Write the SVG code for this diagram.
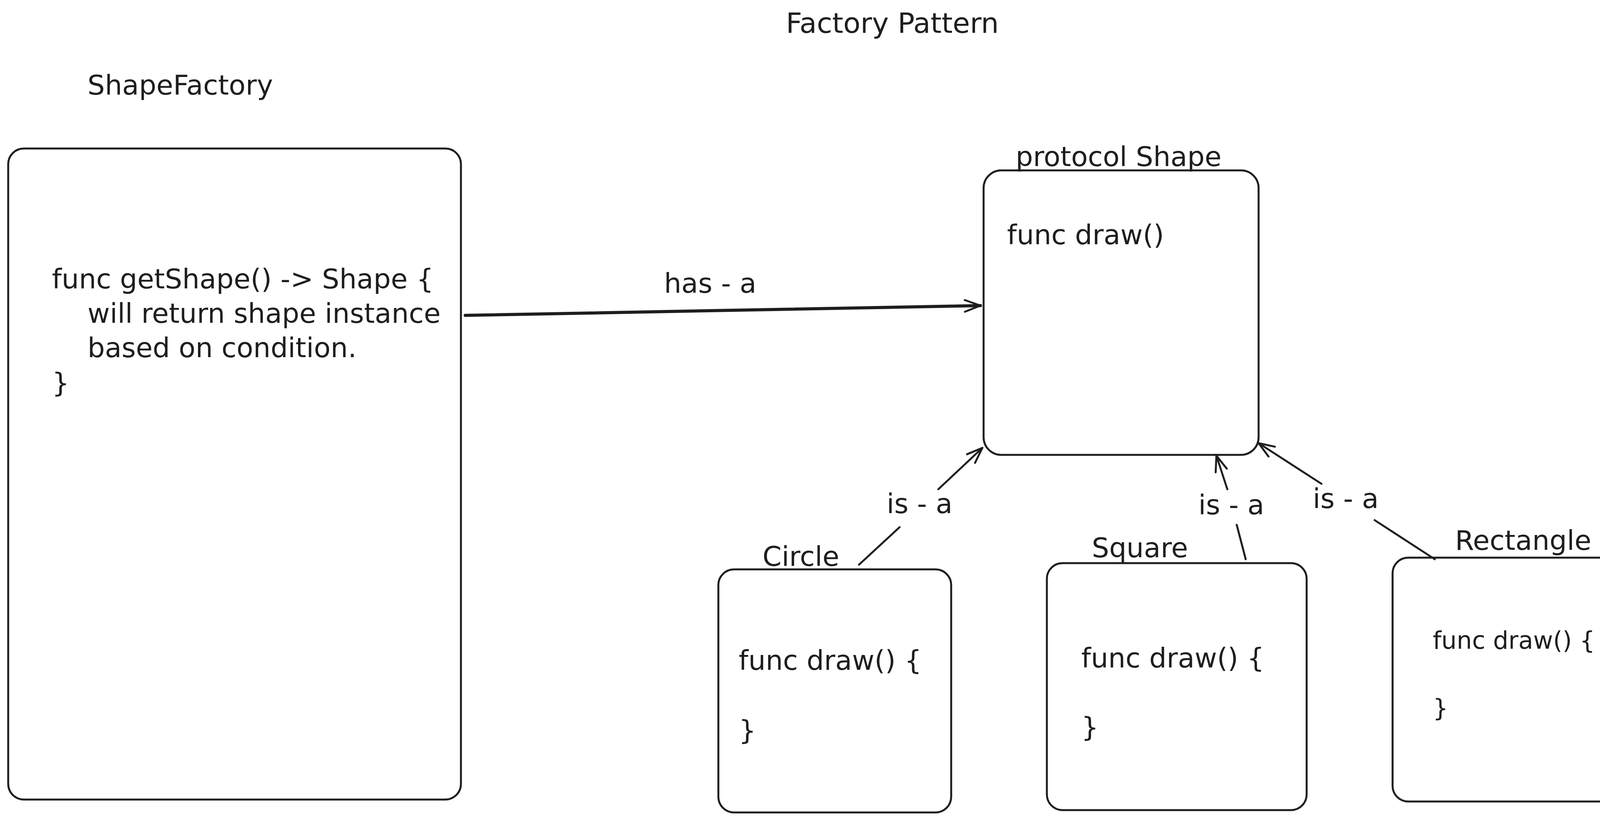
<svg xmlns="http://www.w3.org/2000/svg" width="4310" height="2106" viewBox="0 0 4310 2106">
  <style>
    .box { fill: #ffffff; stroke: #1e1e1e; stroke-width: 5; }
    .t { font-family: "DejaVu Sans", "Liberation Sans", sans-serif; font-size: 70px; fill: #1e1e1e; }
    .title { font-size: 72px; }
    .sm { font-size: 62px; }
    .conn { fill: none; stroke: #1e1e1e; stroke-width: 5; stroke-linecap: round; }
    .thick { stroke-width: 8; }
  </style>
  <defs>
    <marker id="arrow" markerUnits="userSpaceOnUse" markerWidth="50" markerHeight="40" refX="42" refY="16" orient="auto" overflow="visible">
      <path d="M2,1 L42,16 L2,31" fill="none" stroke="#1e1e1e" stroke-width="5" stroke-linecap="round" stroke-linejoin="round"/>
    </marker>
  </defs>
  <rect width="4310" height="2106" fill="#ffffff"/>

  <g id="title">
    <text class="t title" x="2012" y="84">Factory Pattern</text>
  </g>

  <g id="shapeFactory">
    <text class="t" x="224" y="242">ShapeFactory</text>
    <rect class="box" x="21" y="380" width="1159" height="1666" rx="40"/>
    <text class="t" x="133" y="738">func getShape() -&gt; Shape {</text>
    <text class="t" x="224" y="826">will return shape instance</text>
    <text class="t" x="224" y="914">based on condition.</text>
    <text class="t" x="133" y="1004">}</text>
  </g>

  <g id="protocolShape">
    <rect class="box" x="2518" y="436" width="704" height="728" rx="45"/>
    <text class="t" x="2600" y="425">protocol Shape</text>
    <text class="t" x="2578" y="625">func draw()</text>
  </g>

  <g id="circle">
    <rect class="box" x="1839" y="1457" width="596" height="622" rx="40"/>
    <text class="t" x="1952" y="1448">Circle</text>
    <text class="t" x="1891" y="1714">func draw() {</text>
    <text class="t" x="1891" y="1893">}</text>
  </g>

  <g id="square">
    <rect class="box" x="2680" y="1441" width="665" height="632" rx="40"/>
    <text class="t" x="2795" y="1426">Square</text>
    <text class="t" x="2768" y="1708">func draw() {</text>
    <text class="t" x="2768" y="1885">}</text>
  </g>

  <g id="rectangle">
    <rect class="box" x="3565" y="1427" width="723" height="624" rx="40"/>
    <text class="t" x="3725" y="1407">Rectangle</text>
    <text class="t sm" x="3668" y="1660">func draw() {</text>
    <text class="t sm" x="3668" y="1833">}</text>
  </g>

  <g id="connectors">
    <g id="hasA">
      <path class="conn thick" d="M1191,807 L2510,782" marker-end="url(#arrow)"/>
      <text class="t" x="1700" y="749">has - a</text>
    </g>
    <g id="circleIsA">
      <path class="conn" d="M2199,1445 L2303,1349"/>
      <path class="conn" d="M2402,1252 L2515,1146" marker-end="url(#arrow)"/>
      <text class="t" x="2354" y="1313" text-anchor="middle">is - a</text>
    </g>
    <g id="squareIsA">
      <path class="conn" d="M3189,1431 L3166,1343"/>
      <path class="conn" d="M3142,1252 L3114,1166" marker-end="url(#arrow)"/>
      <text class="t" x="3152" y="1316" text-anchor="middle">is - a</text>
    </g>
    <g id="rectangleIsA">
      <path class="conn" d="M3673,1431 L3519,1331"/>
      <path class="conn" d="M3383,1238 L3222,1134" marker-end="url(#arrow)"/>
      <text class="t" x="3445" y="1300" text-anchor="middle">is - a</text>
    </g>
  </g>
</svg>
